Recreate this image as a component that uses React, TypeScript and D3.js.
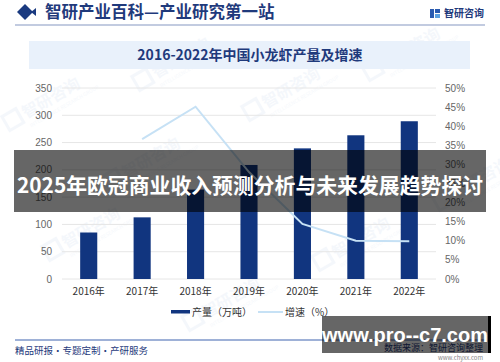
import * as d3 from 'd3';

const years = ['2016年', '2017年', '2018年', '2019年', '2020年', '2021年', '2022年'];
const output = [85.2, 112.97, 163.87, 208.96, 239.37, 263.36, 289.07];
const growth: (number | null)[] = [null, 36.6, 45.1, 28.0, 14.4, 10.0, 9.9];
const leftTicks = [0, 50, 100, 150, 200, 250, 300, 350];
const rightTicks = [0, 5, 10, 15, 20, 25, 30, 35, 40, 45, 50];

const W = 500;
const H = 362;
const plot = { left: 62, right: 436, top: 88, bottom: 279 };
const navy = '#11357f';
const lineBlue = '#c6e1f5';
const cjk = '"Noto Sans CJK SC", "Noto Sans", sans-serif';

export default function App() {
  const x = d3.scaleBand().domain(years).range([plot.left, plot.right]).paddingInner(0.68).paddingOuter(0.34);
  const yL = d3.scaleLinear().domain([0, 350]).range([plot.bottom, plot.top]);
  const yR = d3.scaleLinear().domain([0, 50]).range([plot.bottom, plot.top]);
  const cx = (d: string) => (x(d) ?? 0) + x.bandwidth() / 2;

  const pts = years
    .map((y, i) => ({ y, v: growth[i] }))
    .filter((p) => p.v !== null) as { y: string; v: number }[];
  const line = d3
    .line<{ y: string; v: number }>()
    .x((d) => cx(d.y))
    .y((d) => yR(d.v));

  // watermark spots
  const marks = [
    [20, 120], [150, 80], [260, 110], [380, 70], [60, 250], [200, 320], [330, 260], [450, 200], [120, 180],
  ];

  return (
    <div style={{ position: 'fixed', left: 0, top: 0 }}>
      <svg width={W} height={H} style={{ display: 'block', background: '#fff', fontFamily: cjk }}>
        {marks.map(([mx, my], i) => (
          <g key={i} transform={`translate(${mx},${my}) rotate(-30)`} opacity={0.05}>
            <rect x={-14} y={-12} width={16} height={16} fill="none" stroke="#3a6fc4" strokeWidth={3} />
            <text x={6} y={2} fontSize={16} fill="#3a6fc4" fontWeight="bold">智研咨询</text>
            <text x={6} y={12} fontSize={5} fill="#3a6fc4">INTELLIGENCE RESEARCH GROUP</text>
          </g>
        ))}

        {/* header */}
        <path d="M17,12 L25,4 L33,12 L25,20 Z" fill="#1a3a80" />
        <path d="M31,12 L36,8 L36,16 Z" fill="#1a3a80" />
        <text x={45} y={18} fontSize={16.5} fontWeight="bold" fill="#1f3a7c">智研产业百科—产业研究第一站</text>
        <rect x={430} y={9} width={4} height={9} fill="#2a5bb0" />
        <rect x={435} y={9} width={5} height={4} fill="#2a5bb0" />
        <rect x={435} y={14} width={5} height={4} fill="#5ba0e0" />
        <text x={444} y={17} fontSize={10} fill="#1f3a7c" fontWeight="bold">智研咨询</text>
        <line x1={15} x2={485} y1={25} y2={25} stroke="#aebad6" strokeWidth={1.5} />

        {/* chart title */}
        <rect x={29} y={41} width={441} height={28} fill="#e9f1fb" />
        <text x={250} y={60} fontSize={14} fontWeight="bold" fill="#1f3a7c" textAnchor="middle">
          2016-2022年中国小龙虾产量及增速
        </text>

        {/* grid + ticks */}
        {leftTicks.map((t) => (
          <g key={t}>
            <line x1={plot.left} x2={plot.right} y1={yL(t)} y2={yL(t)} stroke="#e6e6e6" strokeWidth={1} />
            <text x={52} y={yL(t) + 3.5} fontSize={10} fill="#666" textAnchor="end" fontFamily="Arial, Liberation Sans, sans-serif">{t}</text>
          </g>
        ))}
        {rightTicks.map((t) => (
          <text key={t} x={445} y={yR(t) + 3.5} fontSize={10} fill="#666" fontFamily="Arial, Liberation Sans, sans-serif">{t}%</text>
        ))}

        {/* bars + growth line */}
        {years.map((y, i) => (
          <rect key={y} x={x(y)} y={yL(output[i])} width={x.bandwidth()} height={yL(0) - yL(output[i])} fill={navy} />
        ))}
        <path d={line(pts) ?? ''} fill="none" stroke={lineBlue} strokeWidth={2} />

        {years.map((y) => (
          <text key={y} x={cx(y)} y={295} fontSize={10} fill="#333" textAnchor="middle">{y}</text>
        ))}

        {/* legend */}
        <rect x={171} y={310} width={19} height={3.5} fill={navy} />
        <text x={192} y={315.5} fontSize={10} fill="#333">产量（万吨）</text>
        <line x1={258} x2={283} y1={312} y2={312} stroke={lineBlue} strokeWidth={2} />
        <text x={285} y={315.5} fontSize={10} fill="#333">增速（%）</text>

        {/* footer */}
        <line x1={15} x2={485} y1={340} y2={340} stroke="#3f65b0" strokeWidth={1.2} />
        <text x={15} y={354} fontSize={9.5} fill="#1f3a7c">精品研报・专题定制・产研服务</text>
        <text x={483} y={351} fontSize={9} fill="#1f3a7c" textAnchor="end">数据来源：智研咨询整理</text>
        <text x={483} y={360} fontSize={6} fill="#888" textAnchor="end">www.chyxx.com</text>

        {/* overlay banner */}
        <rect x={14} y={150} width={472} height={62} fill="#000" opacity={0.6} />
        <text x={250} y={193} fontSize={21} fontWeight="bold" fill="#fff" textAnchor="middle" textLength={466} lengthAdjust="spacingAndGlyphs">
          2025年欧冠商业收入预测分析与未来发展趋势探讨
        </text>

        {/* site box */}
        <rect x={322} y={316} width={169} height={37} fill="#000" opacity={0.6} />
        <rect x={488} y={316} width={3} height={37} fill="#000" />
        <text x={405} y={342} fontSize={20} fontWeight="bold" fill="#fff" textAnchor="middle" fontFamily="Arial, Liberation Sans, sans-serif">
          www.pro--c7.com
        </text>
      </svg>
    </div>
  );
}
